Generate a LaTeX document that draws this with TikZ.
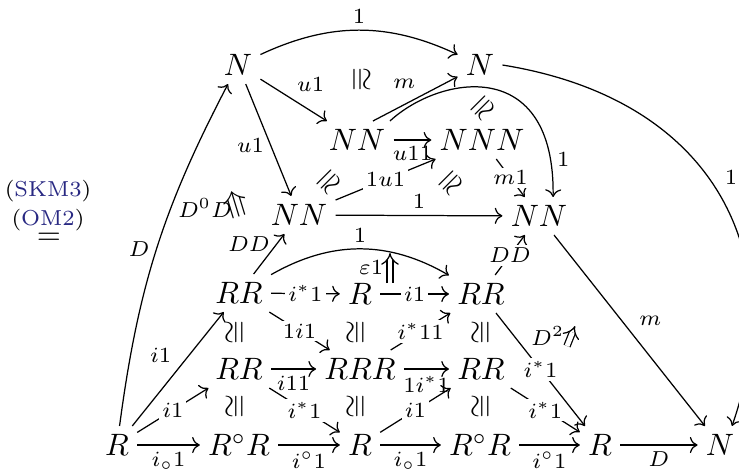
\documentclass[tikz,border=0pt]{standalone}
\usepackage{amsmath,amssymb}
\usepackage{xcolor}
\usepackage{tikz}
\usetikzlibrary{arrows.meta,positioning}
\definecolor{refblue}{RGB}{40,40,130}

\begin{document}
\begin{tikzpicture}[x=0.1136mm,y=0.1136mm,
    obj/.style={font=\normalsize,inner sep=2.5pt,text height=6.9pt,text depth=0pt},
    lab/.style={font=\scriptsize,inner sep=2pt},
    desc/.style={lab,fill=white,inner sep=1pt},
    iso/.style={font=\normalsize,inner sep=0pt},
    tag/.style={font=\scriptsize,inner sep=0pt},
    arr/.style={-{Computer Modern Rightarrow}},
    dbl/.style={-{Implies},double,double distance=1.6pt}]
    \useasboundingbox (0,0) rectangle (739,-474);
    % objects
    \node[obj] (Ntl) at (238,-65){$N$}; \node[obj] (Ntr) at (480,-65){$N$};
    \node[obj] (NNa) at (357,-140){$NN$}; \node[obj] (NNN) at (482,-140){$NNN$};
    \node[obj] (NNl) at (299,-215){$NN$}; \node[obj] (NNr) at (539,-216){$NN$};
    \node[obj] (RRa) at (239,-293){$RR$}; \node[obj] (Rb) at (360,-294){$R$};
    \node[obj] (RRc) at (481,-294){$RR$};
    \node[obj] (RRd) at (239,-369){$RR$}; \node[obj] (RRR) at (360,-369){$RRR$};
    \node[obj] (RRf) at (481,-369){$RR$};
    \node[obj] (R0) at (117,-445){$R$}; \node[obj] (RoRa) at (239,-445){$R^\circ R$};
    \node[obj] (Rm) at (360,-445){$R$}; \node[obj] (RoRb) at (480,-445){$R^\circ R$};
    \node[obj] (Rr) at (600,-445){$R$}; \node[obj] (Nbr) at (720,-445){$N$};
    % equation tags
    \node[tag] (skm) at (48,-191){(\textcolor{refblue}{SKM3})};
    \node[tag] (om) at (48,-220){(\textcolor{refblue}{OM2})};
    \node[iso] (eqs) at (49,-239){$=$};
    % top part
    \draw[arr] (Ntl) to[bend left=25] node[lab,above]{$1$} (Ntr);
    \draw[arr] (Ntl) -- node[lab,above right,pos=0.45]{$u1$} (NNa);
    \draw[arr] (Ntl) -- node[lab,left,pos=0.55]{$u1$} (NNl);
    \draw[arr] (NNa.50) -- node[lab,above left,pos=0.58]{$m$} (Ntr);
    \draw[arr] (NNa) -- node[lab,below]{$u11$} (NNN);
    \draw[arr] (NNl) -- node[desc]{$1u1$} (NNN);
    \draw[arr] (NNN) -- node[desc]{$m1$} (NNr);
    \draw[arr] (NNl) -- node[lab,above]{$1$} (NNr);
    \coordinate (NNrtop) at ([xshift=1.6mm]NNr.north);
    \draw[arr] (NNa.30) .. controls (440,-75) and (555,-55) .. node[lab,pos=0.9,right]{$1$} (NNrtop);
    \coordinate (Nbrtop) at ([xshift=1.36mm]Nbr.north);
    \draw[arr] (Ntr.east) .. controls (720,-100) and (790,-260) .. node[lab,pos=0.45,right=1.1mm]{$1$} (Nbrtop);
    \draw[arr] (NNr) -- node[lab,pos=0.45,right=1.2mm]{$m$} (Nbr);
    % lower part
    \draw[arr] (RRa) -- node[desc]{$i^*1$} (Rb);
    \draw[arr] (Rb) -- node[desc]{$i1$} (RRc);
    \draw[arr] (RRa) to[bend left=30] node[lab,above]{$1$} (RRc);
    \draw[arr] (RRa) -- node[lab,left,pos=0.75]{$DD$} (NNl);
    \draw[arr] (RRc) -- node[desc]{$DD$} (NNr);
    \draw[arr] (RRa) -- node[desc]{$1i1$} (RRR);
    \draw[arr] (RRR) -- node[desc]{$i^*11$} (RRc);
    \draw[arr] (RRd) -- node[lab,below]{$i11$} (RRR);
    \draw[arr] (RRR) -- node[lab,below]{$1i^*1$} (RRf);
    \draw[arr] (RRd) -- node[desc]{$i^*1$} (Rm);
    \draw[arr] (Rm) -- node[desc]{$i1$} (RRf);
    \draw[arr] (RRf) -- node[desc]{$i^*1$} (Rr);
    \draw[arr] (RRc) -- node[desc]{$i^*1$} (Rr);
    \draw[arr] (R0) -- node[lab,below]{$i_\circ 1$} (RoRa);
    \draw[arr] (RoRa) -- node[lab,below]{$i^\circ 1$} (Rm);
    \draw[arr] (Rm) -- node[lab,below]{$i_\circ 1$} (RoRb);
    \draw[arr] (RoRb) -- node[lab,below]{$i^\circ 1$} (Rr);
    \draw[arr] (Rr) -- node[lab,below]{$D$} (Nbr);
    \draw[arr] (R0) -- node[lab,above left]{$i1$} (RRa);
    \draw[arr] (R0) -- node[desc]{$i1$} (RRd);
    \draw[arr] (R0) to[bend left=10] node[lab,left]{$D$} (Ntl);
    % isomorphisms
    \node[iso,rotate=-90] (isoa) at (360,-80){$\cong$};
    \node[iso,rotate=-135] (isob) at (482,-107){$\cong$};
    \node[iso,rotate=-135] (isoc) at (328,-181){$\cong$};
    \node[iso,rotate=-135] (isod) at (450,-182){$\cong$};
    \foreach \xx/\nm in {236/a,357/b,482/c}{
      \node[iso,rotate=90] (isu\nm) at (\xx,-332){$\cong$};
      \node[iso,rotate=90] (isl\nm) at (\xx,-406){$\cong$};
    }
    % 2-cells
    \node[iso,rotate=107] (tri) at (236,-204){$\Rrightarrow$};
    \node[lab] (tril) at (205,-208){$D^0D$};
    \coordinate (epsa) at (390,-283); \coordinate (epsb) at (390,-253);
    \draw[dbl] (epsa) -- node[lab,left]{$\varepsilon 1$} (epsb);
    \coordinate (dsqa) at (567,-346); \coordinate (dsqb) at (575,-326);
    \draw[dbl] (dsqa) -- node[lab,left]{$D^2$} (dsqb);
\end{tikzpicture}
\end{document}
